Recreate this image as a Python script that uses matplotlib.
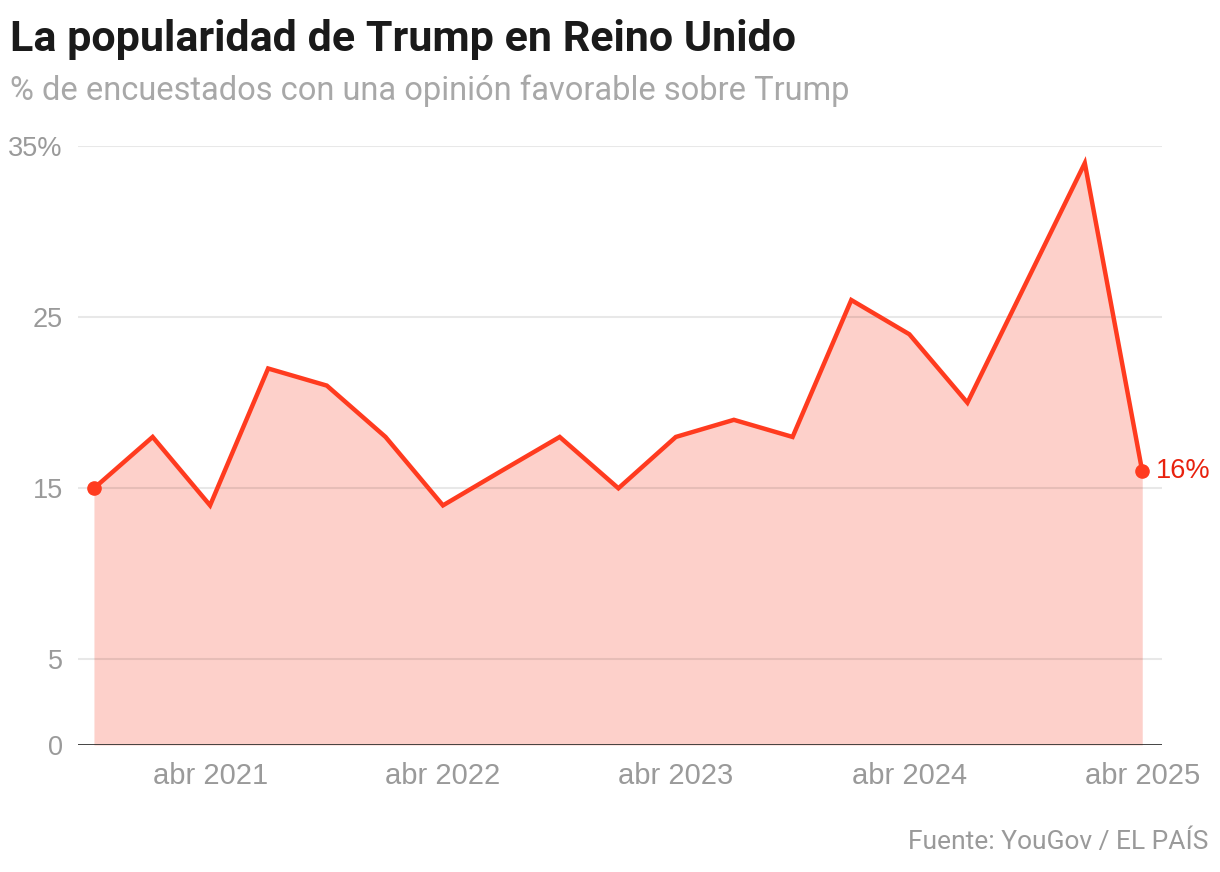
import pandas as pd
import numpy as np
import matplotlib
matplotlib.use("Agg")
import matplotlib.pyplot as plt
import matplotlib.dates as mdates

# data: quarterly YouGov readings
fechas = ["2020-10-01", "2021-01-01", "2021-04-01", "2021-07-01", "2021-10-01",
          "2022-01-01", "2022-04-01", "2022-07-01", "2022-10-01", "2023-01-01",
          "2023-04-01", "2023-07-01", "2023-10-01", "2024-01-01", "2024-04-01",
          "2024-07-01", "2024-10-01", "2025-01-01", "2025-04-01"]
favorable = [15, 18, 14, 22, 21, 18, 14, 16, 18, 15, 18, 19, 18, 26, 24, 20, 27, 34, 16]
y_ticks = [0, 5, 15, 25, 35]
y_labels = ["0", "5", "15", "25", "35%"]
x_ticks = ["2021-04-01", "2022-04-01", "2023-04-01", "2024-04-01", "2025-04-01"]
x_labels = ["abr 2021", "abr 2022", "abr 2023", "abr 2024", "abr 2025"]

fechas = pd.to_datetime(fechas)
x_ticks = pd.to_datetime(x_ticks)

rojo = "#ff3b1f"
relleno = "#fdd0ca"
gris = "#9a9a9a"
narrow = ["Roboto", "DejaVu Sans"]
sans = ["Liberation Sans", "DejaVu Sans"]

fig = plt.figure(figsize=(12.2, 8.72), dpi=100)
ax = fig.add_axes([78 / 1220, 127 / 872, (1162 - 78) / 1220, (745 - 146) / 872])

ax.fill_between(fechas, favorable, 0, color=relleno, lw=0, zorder=1)
ax.plot(fechas, favorable, color=rojo, lw=3.2, solid_joinstyle="miter", zorder=3, clip_on=False)
ax.plot([fechas[0], fechas[-1]], [favorable[0], favorable[-1]], "o", color=rojo, ms=9.5, zorder=4, clip_on=False)
ax.text(fechas[-1] + pd.Timedelta(days=22), favorable[-1], f"{favorable[-1]}%", color="#e8220e",
        fontsize=19.5, family=sans, va="center", ha="left")

for t in y_ticks[1:]:
    ax.axhline(t, color="#000000", alpha=0.09, lw=1.5, zorder=2)
ax.axhline(0, color="#333333", lw=2, zorder=5)

ax.set_ylim(0, 35)
ax.set_xlim(fechas[0] - pd.Timedelta(days=25), fechas[-1] + pd.Timedelta(days=31))
ax.set_yticks(y_ticks)
ax.set_yticklabels(y_labels, family=sans, fontsize=19.5, color=gris)
ax.set_xticks(x_ticks)
ax.set_xticklabels(x_labels, family=sans, fontsize=21, color=gris)
ax.tick_params(length=0, axis="y", pad=11)
ax.tick_params(length=0, axis="x", pad=12)
for s in ax.spines.values():
    s.set_visible(False)

fig.text(10 / 1220, 1 - 40 / 872, "La popularidad de Trump en Reino Unido", family=narrow,
         fontweight="bold", fontsize=31, color="#1a1a1a", va="center", ha="left")
fig.text(10 / 1220, 1 - 91 / 872, "% de encuestados con una opinión favorable sobre Trump", family=narrow,
         fontsize=23.5, color="#a8a8a8", va="center", ha="left")
fig.text(1208 / 1220, 1 - 842 / 872, "Fuente: YouGov / EL PAÍS", family=narrow,
         fontsize=19, color=gris, va="center", ha="right")

fig.savefig("out.png", dpi=100)
